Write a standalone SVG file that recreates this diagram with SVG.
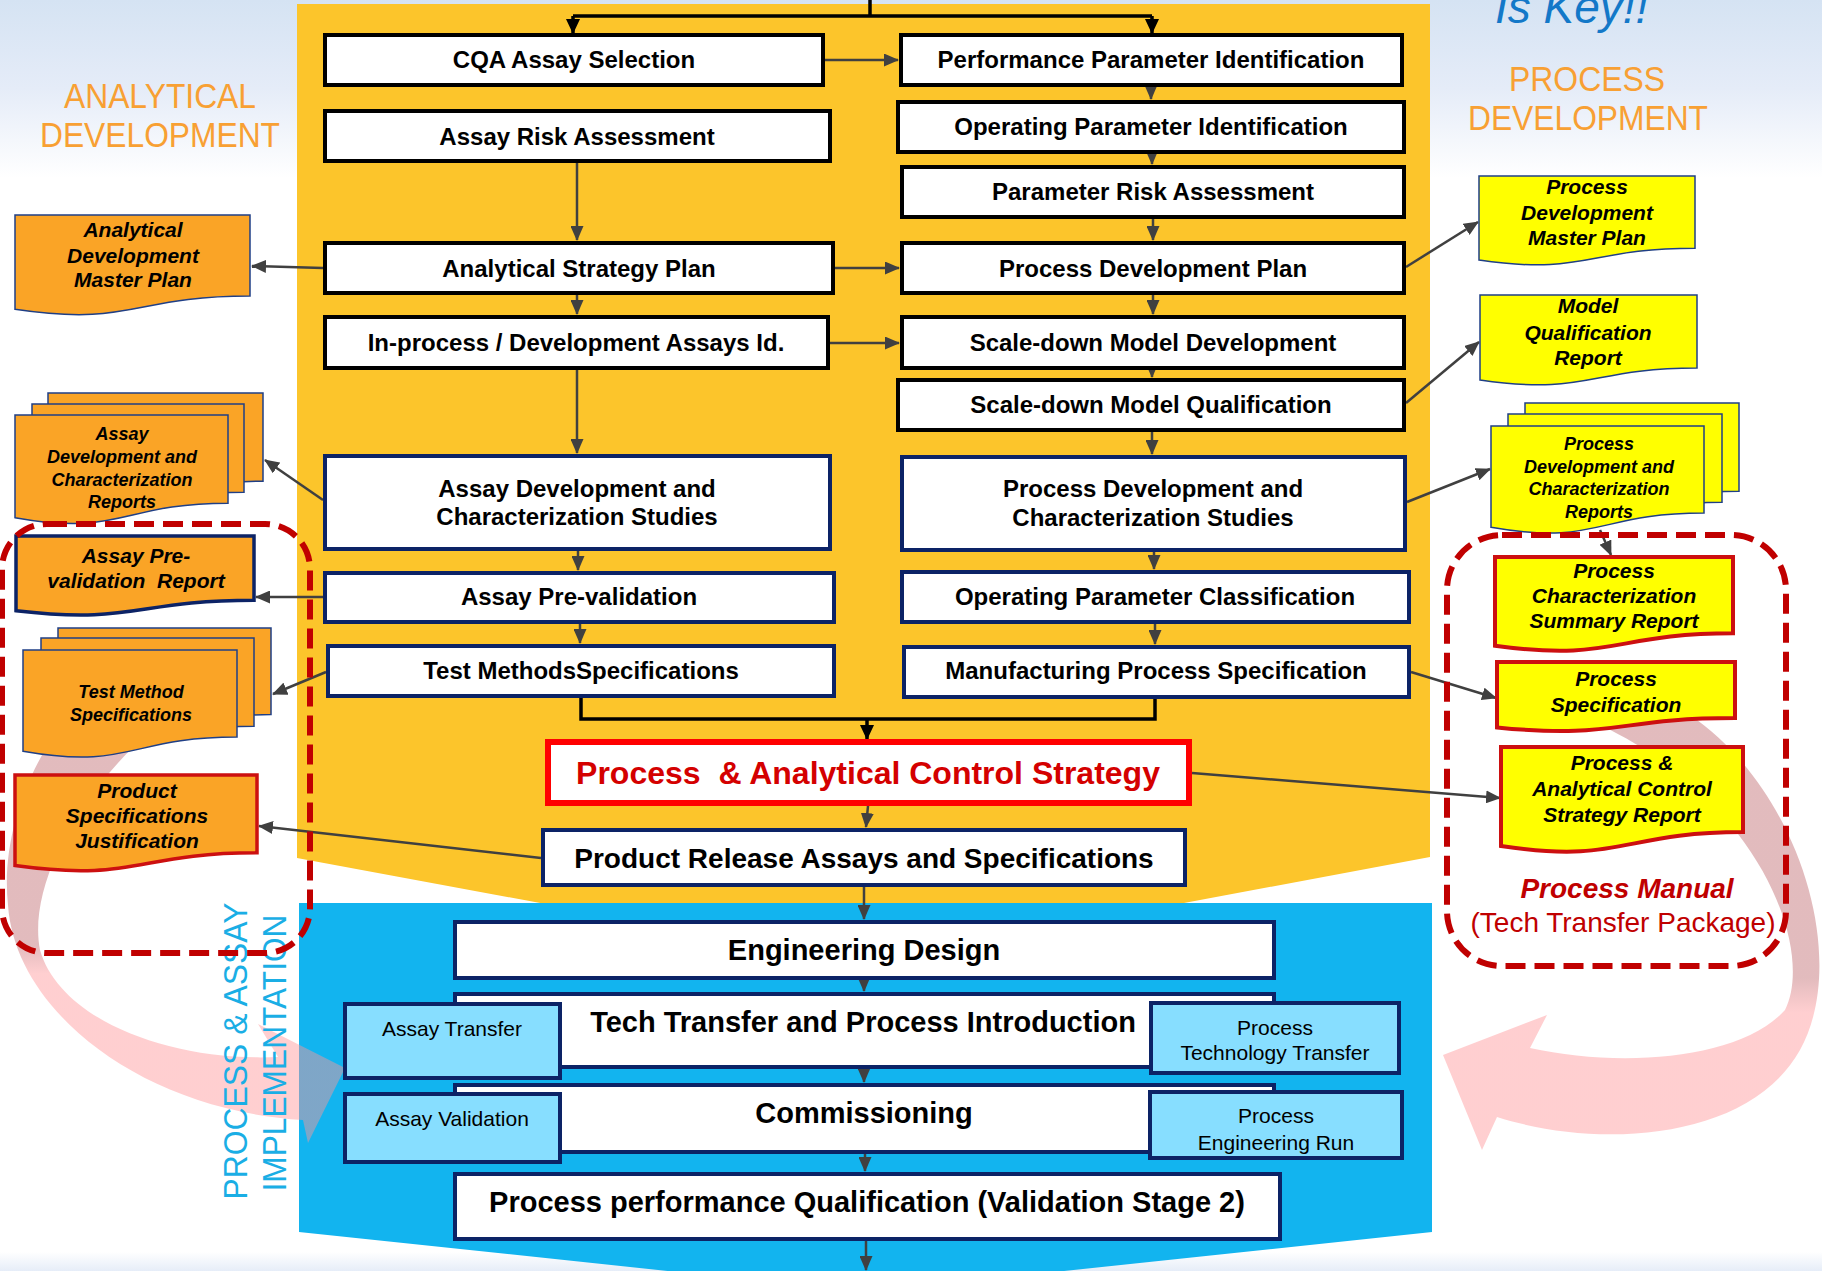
<svg xmlns="http://www.w3.org/2000/svg" width="1822" height="1271" viewBox="0 0 1822 1271">
<defs>
<linearGradient id="bg" x1="0" y1="0" x2="0" y2="1271" gradientUnits="userSpaceOnUse">
<stop offset="0" stop-color="#D5E3F3"/><stop offset="0.07" stop-color="#E5ECF8"/><stop offset="0.14" stop-color="#FFFFFF"/><stop offset="0.985" stop-color="#FFFFFF"/><stop offset="1" stop-color="#E6EDF8"/>
</linearGradient>
<linearGradient id="pkL" x1="0" y1="740" x2="0" y2="1150" gradientUnits="userSpaceOnUse">
<stop offset="0" stop-color="#C06B70"/><stop offset="0.5" stop-color="#C06B70"/><stop offset="0.57" stop-color="#FF9699"/><stop offset="1" stop-color="#FF9699"/>
</linearGradient>
<linearGradient id="pkR" x1="0" y1="720" x2="0" y2="1150" gradientUnits="userSpaceOnUse">
<stop offset="0" stop-color="#C06B70"/><stop offset="0.6" stop-color="#C06B70"/><stop offset="0.68" stop-color="#FF9699"/><stop offset="1" stop-color="#FF9699"/>
</linearGradient>
<marker id="ag" markerUnits="userSpaceOnUse" markerWidth="15" markerHeight="13" refX="14" refY="6.5" orient="auto"><path d="M0,0 L15,6.5 L0,13 Z" fill="#404040"/></marker>
<marker id="ak" markerUnits="userSpaceOnUse" markerWidth="15" markerHeight="14" refX="14" refY="7" orient="auto"><path d="M0,0 L15,7 L0,14 Z" fill="#000"/></marker>
<style>
.bx{fill:#fff;stroke:#000;stroke-width:4}
.bn{fill:#fff;stroke:#0C2366;stroke-width:4}
.lb{fill:#87DEFF;stroke:#0C2366;stroke-width:4}
.od{fill:#FAA426;stroke:#1F3F86;stroke-width:1.5}
.yd{fill:#FFFF00;stroke:#1F3F86;stroke-width:1.5}
.t{font-family:"Liberation Sans",Arial,sans-serif;font-weight:bold;font-size:24px;text-anchor:middle;fill:#000}
.tl{font-size:29px}
.tn{font-family:"Liberation Sans",Arial,sans-serif;font-size:21px;text-anchor:middle;fill:#000}
.dt{font-family:"Liberation Sans",Arial,sans-serif;font-weight:bold;font-style:italic;font-size:21px;text-anchor:middle;fill:#000}
.ds{font-size:18px}
.c{fill:none;stroke:#404040;stroke-width:2.5;marker-end:url(#ag)}
.k{fill:none;stroke:#000;stroke-width:3.5}
.ka{fill:none;stroke:#000;stroke-width:3.5;marker-end:url(#ak)}
.dash{fill:none;stroke:#C00000;stroke-width:6;stroke-dasharray:20 9}
.lab{font-family:"Liberation Sans",Arial,sans-serif;font-size:35px;fill:#F8A033;text-anchor:middle}
</style>
</defs>

<rect x="0" y="0" width="1822" height="1271" fill="url(#bg)"/>

<g id="panels">
<polygon points="297,4 1430,4 1430,857 864,963 297,858" fill="#FCC52B"/>
<polygon points="299,903 1432,903 1432,1232 866,1292 299,1232" fill="#12B4EF"/>
</g>

<g id="feedback-arrows">
<path d="M48,745 C20,790 2,850 8,905 C15,1010 140,1110 303,1120 L308,1143 L345,1068 L258,1024 L278,1057 C170,1062 60,1020 40,950 C30,900 60,820 135,745 Z" fill="url(#pkL)" fill-opacity="0.46"/>
<path d="M1690,715 C1800,790 1850,960 1800,1050 C1750,1140 1600,1150 1497,1117 L1482,1150 L1443,1055 L1547,1015 L1530,1048 C1620,1068 1740,1060 1785,1010 C1815,950 1760,800 1600,725 Z" fill="url(#pkR)" fill-opacity="0.46"/>
</g>

<g id="labels">
<text class="lab" x="160" y="108" textLength="192" lengthAdjust="spacingAndGlyphs">ANALYTICAL</text>
<text class="lab" x="160" y="147" textLength="240" lengthAdjust="spacingAndGlyphs">DEVELOPMENT</text>
<text class="lab" x="1587" y="91" textLength="156" lengthAdjust="spacingAndGlyphs">PROCESS</text>
<text class="lab" x="1588" y="130" textLength="240" lengthAdjust="spacingAndGlyphs">DEVELOPMENT</text>
<text x="1495" y="23" font-family="Liberation Sans, Arial, sans-serif" font-style="italic" font-size="46" fill="#1378C8">Is Key!!</text>
<text transform="translate(247,1051) rotate(-90)" font-family="Liberation Sans, Arial, sans-serif" font-size="34" fill="#1AAEE5" text-anchor="middle" textLength="297" lengthAdjust="spacingAndGlyphs">PROCESS &amp; ASSAY</text>
<text transform="translate(286,1053) rotate(-90)" font-family="Liberation Sans, Arial, sans-serif" font-size="34" fill="#1AAEE5" text-anchor="middle" textLength="277" lengthAdjust="spacingAndGlyphs">IMPLEMENTATION</text>
</g>

<g id="connectors">
<path class="k" d="M870,0 V16 M573,16 H1152"/>
<path class="ka" d="M573,16 V33"/>
<path class="ka" d="M1152,16 V33"/>
<path class="k" d="M581,698 V719 H1155 V699"/>
<path class="ka" d="M867,719 V739"/>
<path class="c" d="M825,60 H898"/>
<path class="c" d="M1151,87 V99"/>
<path class="c" d="M1152,154 V164"/>
<path class="c" d="M1153,219 V240"/>
<path class="c" d="M1153,295 V314"/>
<path class="c" d="M1152,370 V377"/>
<path class="c" d="M1152,432 V454"/>
<path class="c" d="M1154,552 V569"/>
<path class="c" d="M1155,624 V644"/>
<path class="c" d="M577,163 V240"/>
<path class="c" d="M577,295 V314"/>
<path class="c" d="M577,370 V453"/>
<path class="c" d="M578,551 V570"/>
<path class="c" d="M580,624 V643"/>
<path class="c" d="M835,268 H899"/>
<path class="c" d="M830,343 H899"/>
<path class="c" d="M323,268 L252,266"/>
<path class="c" d="M323,500 L265,460"/>
<path class="c" d="M323,597 L256,597"/>
<path class="c" d="M326,672 L273,694"/>
<path class="c" d="M541,858 L259,826"/>
<path class="c" d="M1406,267 L1478,222"/>
<path class="c" d="M1406,403 L1479,342"/>
<path class="c" d="M1407,502 L1490,469"/>
<path class="c" d="M1600,530 L1611,555"/>
<path class="c" d="M1411,672 L1496,698"/>
<path class="c" d="M1192,773 L1500,798"/>
<path class="c" d="M868,806 L866,827"/>
<path class="c" d="M864,887 V919"/>
<path class="c" d="M864,980 V991"/>
<path class="c" d="M864,1069 V1082"/>
<path class="c" d="M865,1154 V1171"/>
<path class="c" d="M866,1241 V1270"/>
</g>

<g id="cqa-assay-selection"><rect class="bx" x="325" y="35" width="498" height="50"/><text class="t" x="574" y="68">CQA Assay Selection</text></g>
<g id="assay-risk-assessment"><rect class="bx" x="325" y="111" width="505" height="50"/><text class="t" x="577" y="145">Assay Risk Assessment</text></g>
<g id="analytical-strategy-plan"><rect class="bx" x="325" y="243" width="508" height="50"/><text class="t" x="579" y="277">Analytical Strategy Plan</text></g>
<g id="in-process-assays"><rect class="bx" x="325" y="317" width="503" height="51"/><text class="t" x="576" y="351">In-process / Development Assays Id.</text></g>
<g id="assay-dev-studies"><rect class="bn" x="325" y="456" width="505" height="93"/><text class="t" x="577" y="497">Assay Development and</text><text class="t" x="577" y="525">Characterization Studies</text></g>
<g id="assay-pre-validation"><rect class="bn" x="325" y="573" width="509" height="49"/><text class="t" x="579" y="605">Assay Pre-validation</text></g>
<g id="test-methods-specs"><rect class="bn" x="328" y="646" width="506" height="50"/><text class="t" x="581" y="679">Test MethodsSpecifications</text></g>

<g id="performance-parameter-id"><rect class="bx" x="901" y="35" width="501" height="50"/><text class="t" x="1151" y="68">Performance Parameter Identification</text></g>
<g id="operating-parameter-id"><rect class="bx" x="898" y="102" width="506" height="50"/><text class="t" x="1151" y="135">Operating Parameter Identification</text></g>
<g id="parameter-risk-assessment"><rect class="bx" x="902" y="167" width="502" height="50"/><text class="t" x="1153" y="200">Parameter Risk Assessment</text></g>
<g id="process-development-plan"><rect class="bx" x="902" y="243" width="502" height="50"/><text class="t" x="1153" y="277">Process Development Plan</text></g>
<g id="scale-down-model-dev"><rect class="bx" x="902" y="317" width="502" height="51"/><text class="t" x="1153" y="351">Scale-down Model Development</text></g>
<g id="scale-down-model-qual"><rect class="bx" x="898" y="380" width="506" height="50"/><text class="t" x="1151" y="413">Scale-down Model Qualification</text></g>
<g id="process-dev-studies"><rect class="bn" x="902" y="457" width="503" height="93"/><text class="t" x="1153" y="497">Process Development and</text><text class="t" x="1153" y="526">Characterization Studies</text></g>
<g id="operating-parameter-class"><rect class="bn" x="902" y="572" width="507" height="50"/><text class="t" x="1155" y="605">Operating Parameter Classification</text></g>
<g id="manufacturing-process-spec"><rect class="bn" x="904" y="647" width="505" height="50"/><text class="t" x="1156" y="679">Manufacturing Process Specification</text></g>

<g id="control-strategy"><rect x="548" y="742" width="641" height="61" fill="#fff" stroke="#FF0000" stroke-width="6"/><text class="t" x="868" y="784" style="font-size:32px;fill:#D40000" xml:space="preserve">Process  &amp; Analytical Control Strategy</text></g>
<g id="product-release"><rect class="bn" x="543" y="830" width="642" height="55"/><text class="t" x="864" y="868" style="font-size:28px">Product Release Assays and Specifications</text></g>
<g id="engineering-design"><rect class="bn" x="455" y="922" width="819" height="56"/><text class="t tl" x="864" y="960">Engineering Design</text></g>
<g id="tech-transfer"><rect class="bn" x="455" y="994" width="819" height="73"/><text class="t tl" x="863" y="1032">Tech Transfer and Process Introduction</text></g>
<g id="commissioning"><rect class="bn" x="455" y="1085" width="819" height="67"/><text class="t tl" x="864" y="1123">Commissioning</text></g>
<g id="ppq"><rect class="bn" x="455" y="1174" width="825" height="65"/><text class="t tl" x="867" y="1212">Process performance Qualification (Validation Stage 2)</text></g>

<g id="assay-transfer"><rect class="lb" x="345" y="1004" width="215" height="74"/><text class="tn" x="452" y="1036">Assay Transfer</text></g>
<g id="assay-validation"><rect class="lb" x="345" y="1094" width="215" height="68"/><text class="tn" x="452" y="1126">Assay Validation</text></g>
<g id="process-tech-transfer"><rect class="lb" x="1151" y="1003" width="248" height="70"/><text class="tn" x="1275" y="1035">Process</text><text class="tn" x="1275" y="1060">Technology Transfer</text></g>
<g id="process-engineering-run"><rect class="lb" x="1150" y="1092" width="252" height="66"/><text class="tn" x="1276" y="1123">Process</text><text class="tn" x="1276" y="1150">Engineering Run</text></g>

<g id="doc-analytical-master-plan"><path class="od" d="M15,215 H250 V296 C132.5,296 132.5,326.9 15,309.3 Z"/><text class="dt" x="133" y="237">Analytical</text><text class="dt" x="133" y="263">Development</text><text class="dt" x="133" y="287">Master Plan</text></g>
<g id="doc-assay-dev-reports">
<path class="od" d="M48,393 H263 V481.2 C155.5,481.2 155.5,514.8 48,495.7 Z"/>
<path class="od" d="M32,404 H244 V492.2 C138,492.2 138,525.8 32,506.7 Z"/>
<path class="od" d="M15,415 H228 V503.2 C121.5,503.2 121.5,536.8 15,517.7 Z"/>
<text class="dt ds" x="122" y="440">Assay</text><text class="dt ds" x="122" y="463">Development and</text><text class="dt ds" x="122" y="486">Characterization</text><text class="dt ds" x="122" y="508">Reports</text></g>
<g id="doc-assay-prevalidation-report"><path d="M16,536 H254 V600.2 C135,600.2 135,624.6 16,610.7 Z" fill="#FAA426" stroke="#0C2366" stroke-width="3.5"/><text class="dt" x="136" y="563">Assay Pre-</text><text class="dt" x="136" y="588" xml:space="preserve">validation  Report</text></g>
<g id="doc-test-method-specs">
<path class="od" d="M58,628 H271 V714.6 C164.5,714.6 164.5,747.6 58,728.9 Z"/>
<path class="od" d="M41,638 H254 V726.2 C147.5,726.2 147.5,759.8 41,740.7 Z"/>
<path class="od" d="M23,650 H237 V737 C130,737 130,770.2 23,751.3 Z"/>
<text class="dt ds" x="131" y="698">Test Method</text><text class="dt ds" x="131" y="721">Specifications</text></g>
<g id="doc-product-spec-justification"><path d="M15,775 H257 V852.8 C136,852.8 136,882.4 15,865.6 Z" fill="#FAA426" stroke="#CC1010" stroke-width="3.5"/><text class="dt" x="137" y="798">Product</text><text class="dt" x="137" y="823">Specifications</text><text class="dt" x="137" y="848">Justification</text></g>

<g id="doc-process-master-plan"><path class="yd" d="M1479,176 H1695 V248.2 C1587,248.2 1587,275.7 1479,260.1 Z"/><text class="dt" x="1587" y="194">Process</text><text class="dt" x="1587" y="220">Development</text><text class="dt" x="1587" y="245">Master Plan</text></g>
<g id="doc-model-qualification"><path class="yd" d="M1480,295 H1697 V368 C1588.5,368 1588.5,395.8 1480,380 Z"/><text class="dt" x="1588" y="313">Model</text><text class="dt" x="1588" y="340">Qualification</text><text class="dt" x="1588" y="365">Report</text></g>
<g id="doc-process-dev-reports">
<path class="yd" d="M1525,403 H1739 V491.2 C1632,491.2 1632,524.8 1525,505.7 Z"/>
<path class="yd" d="M1508,414 H1722 V502.2 C1615,502.2 1615,535.8 1508,516.7 Z"/>
<path class="yd" d="M1491,426 H1704 V513 C1597.5,513 1597.5,546.2 1491,527.3 Z"/>
<text class="dt ds" x="1599" y="450">Process</text><text class="dt ds" x="1599" y="473">Development and</text><text class="dt ds" x="1599" y="495">Characterization</text><text class="dt ds" x="1599" y="518">Reports</text></g>
<g id="doc-process-char-summary"><path d="M1495,557 H1733 V633.2 C1614,633.2 1614,662.2 1495,645.7 Z" fill="#FFFF00" stroke="#CC1010" stroke-width="4"/><text class="dt" x="1614" y="578">Process</text><text class="dt" x="1614" y="603">Characterization</text><text class="dt" x="1614" y="628">Summary Report</text></g>
<g id="doc-process-spec"><path d="M1497,662 H1735 V718.1 C1616,718.1 1616,739.5 1497,727.4 Z" fill="#FFFF00" stroke="#CC1010" stroke-width="4"/><text class="dt" x="1616" y="686">Process</text><text class="dt" x="1616" y="712">Specification</text></g>
<g id="doc-control-strategy-report"><path d="M1501,747 H1743 V832 C1622,832 1622,864.4 1501,846 Z" fill="#FFFF00" stroke="#CC1010" stroke-width="4"/><text class="dt" x="1622" y="770">Process &amp;</text><text class="dt" x="1622" y="796">Analytical Control</text><text class="dt" x="1622" y="822">Strategy Report</text></g>

<g id="groups">
<rect class="dash" x="2" y="524" width="308" height="429" rx="45"/>
<rect class="dash" x="1447" y="535" width="339" height="431" rx="55"/>
<text x="1627" y="898" font-family="Liberation Sans, Arial, sans-serif" font-weight="bold" font-style="italic" font-size="28" fill="#C00000" text-anchor="middle">Process Manual</text>
<text x="1623" y="932" font-family="Liberation Sans, Arial, sans-serif" font-size="28" fill="#C00000" text-anchor="middle">(Tech Transfer Package)</text>
</g>
</svg>
